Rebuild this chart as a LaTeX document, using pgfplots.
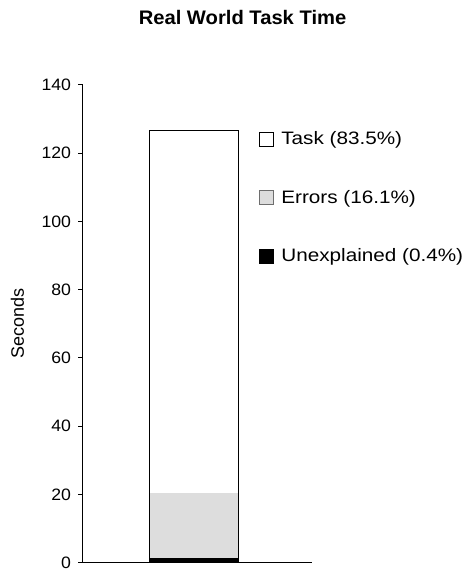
\documentclass[border=0pt]{standalone}
\usepackage{pgfplots}
\pgfplotsset{compat=1.18}
\usepackage{fontspec}
\setmainfont{Liberation Sans}
\newfontfamily\legendfont[FakeStretch=1.15]{Liberation Sans}
\newfontfamily\tickfont[FakeStretch=1.07]{Liberation Sans}
\newfontfamily\titlefont[FakeStretch=1.03]{Liberation Sans}
\definecolor{errgray}{RGB}{221,221,221}
\definecolor{errborder}{RGB}{110,110,110}
\begin{document}
\begin{tikzpicture}
\useasboundingbox (0,0) rectangle (466pt,569pt);
\begin{axis}[
  at={(82.7pt,6.3pt)}, anchor=south west,
  scale only axis, width=229pt, height=477.7pt,
  xmin=0, xmax=229, ymin=0, ymax=140,
  enlargelimits=false,
  axis x line=bottom, axis y line=left,
  axis line style={-, line width=1pt, black},
  xtick=\empty,
  ytick={0,20,...,140},
  tick align=outside,
  major tick length=4.5pt,
  tick style={line width=1pt, black},
  /pgf/number format/assume math mode=true,
  yticklabel style={font=\tickfont\fontsize{16.5}{18}\selectfont, inner sep=0pt, anchor=east, xshift=-7pt},
  ylabel={Seconds},
  ylabel style={font=\fontsize{18}{20}\selectfont, at={(axis description cs:-0.285,0.5)}, anchor=center, rotate=0},
  title={Real World Task Time},
  title style={font=\titlefont\bfseries\fontsize{19.6}{22}\selectfont, at={(axis description cs:0.698,1.115)}, anchor=base},
  legend style={at={(axis description cs:0.770,0.902)}, anchor=north west, draw=none, fill=none,
    inner sep=0pt, outer sep=0pt, row sep=43.5pt,
    font=\legendfont\fontsize{18}{20}\selectfont,
    nodes={inner sep=0pt, outer sep=0pt},
    /tikz/every odd column/.append style={column sep=7.5pt}},
  legend cell align=left,
  clip=false,
]
% total (white fill)
\addplot[ybar, bar width=89.7, bar shift=0pt, fill=white, draw=none, forget plot] coordinates {(111.15,126.7)};
% errors (cumulative top)
\addplot[ybar, bar width=89.7, bar shift=0pt, fill=errgray, draw=none, forget plot] coordinates {(111.15,20.5)};
% unexplained
\addplot[ybar, bar width=89.7, bar shift=0pt, fill=black, draw=none, forget plot] coordinates {(111.15,1.3)};
% outline of total
\addplot[ybar, bar width=89.7, bar shift=0pt, fill=none, draw=black, line width=1pt, forget plot] coordinates {(111.15,126.7)};
\addlegendimage{legend image code/.code={\draw[fill=white, draw=black, line width=0.8pt] (0pt,-7.3pt) rectangle (14pt,6.7pt);}}
\addlegendentry{Task (83.5\%)}
\addlegendimage{legend image code/.code={\draw[fill=errgray, draw=errborder, line width=0.8pt] (0pt,-7.3pt) rectangle (14pt,6.7pt);}}
\addlegendentry{Errors (16.1\%)}
\addlegendimage{legend image code/.code={\draw[fill=black, draw=black, line width=0.8pt] (0pt,-7.3pt) rectangle (14pt,6.7pt);}}
\addlegendentry{Unexplained (0.4\%)}
\end{axis}
\end{tikzpicture}
\end{document}
